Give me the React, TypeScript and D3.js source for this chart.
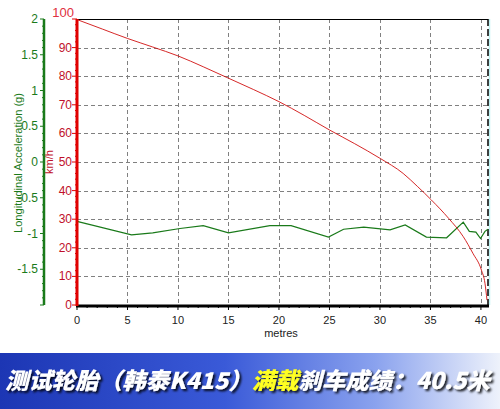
import React, { useEffect, useRef } from 'react';
import * as d3 from 'd3';

// distance (m) vs speed (km/h)
const speedDist = [0, 2.5, 5, 7.5, 10, 12.5, 15, 17.5, 20, 22.5, 25, 27.5, 30, 32.3, 33.7, 35.1, 36.8, 38.25, 39.2, 40.05, 40.4, 40.6];
const speedVals = [99.8, 96.5, 93.2, 90.2, 87.1, 83.3, 79.3, 75.3, 71.1, 66.3, 61.2, 56.4, 51.3, 46.0, 41.5, 36.7, 30.3, 23.9, 18.1, 12.2, 7.6, 1.7];

// distance (m) vs longitudinal acceleration (g)
const accDist = [0, 5.4, 7.5, 10.2, 12.5, 15, 19.1, 21.2, 24.9, 26.4, 28.4, 31.0, 32.5, 34.6, 36.6, 38.25, 38.85, 39.5, 39.96, 40.4, 40.7];
const accVals = [-0.83, -1.02, -0.99, -0.93, -0.89, -0.99, -0.89, -0.89, -1.05, -0.94, -0.91, -0.95, -0.88, -1.05, -1.06, -0.84, -0.97, -0.98, -1.07, -0.97, -0.94];

const xTicks = [0, 5, 10, 15, 20, 25, 30, 35, 40];
const speedTicks = [0, 10, 20, 30, 40, 50, 60, 70, 80, 90];
const accTicks = [-1.5, -1, -0.5, 0, 0.5, 1, 1.5, 2];

const FONT = '"Liberation Sans", Arial, sans-serif';

const App: React.FC = () => {
    const ref = useRef<SVGSVGElement | null>(null);

    useEffect(() => {
        if (!ref.current) return;
        document.body.style.margin = '0';
        const svg = d3.select(ref.current);
        svg.selectAll('*').remove();

        const left = 77, right = 488, top = 19, bottom = 305;
        const x = d3.scaleLinear().domain([0, 40.7]).range([left, right]);
        const ySpeed = d3.scaleLinear().domain([0, 100]).range([bottom, top]);
        const yAcc = d3.scaleLinear().domain([-2, 2]).range([bottom, top]);

        svg.append('rect').attr('width', 500).attr('height', 409).attr('fill', '#fff');

        // grid
        const grid = svg.append('g').attr('stroke', '#808080').attr('stroke-dasharray', '4,3').attr('stroke-width', 1);
        grid.selectAll('line.v').data(xTicks.slice(1)).enter().append('line')
            .attr('x1', d => Math.round(x(d)) + 0.5).attr('x2', d => Math.round(x(d)) + 0.5)
            .attr('y1', top).attr('y2', bottom);
        grid.selectAll('line.h').data(speedTicks.slice(1)).enter().append('line')
            .attr('x1', left).attr('x2', right)
            .attr('y1', d => Math.round(ySpeed(d)) + 0.5).attr('y2', d => Math.round(ySpeed(d)) + 0.5);

        // frame
        svg.append('line').attr('x1', left).attr('x2', right).attr('y1', top + 0.5).attr('y2', top + 0.5)
            .attr('stroke', '#000').attr('stroke-width', 1);
        svg.append('line').attr('x1', right + 1.5).attr('x2', right + 1.5).attr('y1', top).attr('y2', bottom)
            .attr('stroke', '#bff3f3').attr('stroke-width', 1.5);
        svg.append('line').attr('x1', right).attr('x2', right).attr('y1', top).attr('y2', bottom)
            .attr('stroke', '#000').attr('stroke-width', 1.5).attr('stroke-dasharray', '7,3');

        // series
        const accLine = d3.line<number>().x((d, i) => x(accDist[i])).y(d => yAcc(d));
        svg.append('path').attr('d', accLine(accVals)).attr('fill', 'none')
            .attr('stroke', '#1a7a1a').attr('stroke-width', 1.2);

        const speedLine = d3.line<number>().x((d, i) => x(speedDist[i])).y(d => ySpeed(d)).curve(d3.curveMonotoneX);
        svg.append('path').attr('d', speedLine(speedVals)).attr('fill', 'none')
            .attr('stroke', '#d01010').attr('stroke-width', 0.9);

        // x axis
        const xa = svg.append('g');
        xa.selectAll('line.minor').data(d3.range(0, 41)).enter().append('line')
            .attr('x1', d => x(d)).attr('x2', d => x(d))
            .attr('y1', bottom).attr('y2', d => bottom + (d % 5 === 0 ? 5 : 3))
            .attr('stroke', '#000').attr('stroke-width', 1);
        xa.append('line').attr('x1', left - 1).attr('x2', right + 1).attr('y1', bottom + 1).attr('y2', bottom + 1)
            .attr('stroke', '#000').attr('stroke-width', 3);
        xa.selectAll('text').data(xTicks).enter().append('text')
            .attr('x', d => x(d)).attr('y', 324).attr('text-anchor', 'middle')
            .attr('font-family', FONT).attr('font-size', 11).attr('fill', '#222')
            .text(d => d);
        svg.append('text').attr('x', 281).attr('y', 337).attr('text-anchor', 'middle')
            .attr('font-family', FONT).attr('font-size', 11).attr('fill', '#222').text('metres');

        // speed axis (red)
        const ra = svg.append('g');
        ra.selectAll('line.minor').data(d3.range(0, 101, 2)).enter().append('line')
            .attr('x1', left).attr('x2', d => left - (d % 10 === 0 ? 5 : 2))
            .attr('y1', d => ySpeed(d)).attr('y2', d => ySpeed(d))
            .attr('stroke', '#e00000').attr('stroke-width', 1);
        ra.append('line').attr('x1', left).attr('x2', left).attr('y1', top).attr('y2', bottom + 1)
            .attr('stroke', '#e00000').attr('stroke-width', 3);
        ra.selectAll('text').data(speedTicks).enter().append('text')
            .attr('x', 72).attr('y', d => ySpeed(d) + 4).attr('text-anchor', 'end')
            .attr('font-family', FONT).attr('font-size', 12).attr('fill', '#c0102a')
            .text(d => d);
        svg.append('text').attr('x', 74).attr('y', 17).attr('text-anchor', 'end')
            .attr('font-family', FONT).attr('font-size', 13).attr('fill', '#e03040').text('100');
        svg.append('text').attr('transform', 'translate(53,162) rotate(-90)').attr('text-anchor', 'middle')
            .attr('font-family', FONT).attr('font-size', 11).attr('fill', '#c0102a').text('km/h');

        // acceleration axis (green)
        const ga = svg.append('g');
        ga.selectAll('line.minor').data(d3.range(-20, 21)).enter().append('line')
            .attr('x1', 44).attr('x2', d => 44 - (d % 5 === 0 ? 4 : 2))
            .attr('y1', d => yAcc(d / 10)).attr('y2', d => yAcc(d / 10))
            .attr('stroke', '#1a7a1a').attr('stroke-width', 1);
        ga.append('line').attr('x1', 44).attr('x2', 44).attr('y1', top).attr('y2', bottom)
            .attr('stroke', '#1a7a1a').attr('stroke-width', 2.5);
        ga.selectAll('text').data(accTicks).enter().append('text')
            .attr('x', 38).attr('y', d => yAcc(d) + 4).attr('text-anchor', 'end')
            .attr('font-family', FONT).attr('font-size', 12).attr('fill', '#1a7a1a')
            .text(d => d);
        svg.append('text').attr('transform', 'translate(22,163) rotate(-90)').attr('text-anchor', 'middle')
            .attr('font-family', FONT).attr('font-size', 10).attr('fill', '#1a7a1a')
            .attr('textLength', 140).attr('lengthAdjust', 'spacingAndGlyphs')
            .text('Longitudinal Acceleration (g)');

        // banner
        const defs = svg.append('defs');
        const grad = defs.append('linearGradient').attr('id', 'bannerGrad');
        grad.append('stop').attr('offset', '0%').attr('stop-color', '#1c36b4');
        grad.append('stop').attr('offset', '45%').attr('stop-color', '#3a5ad8');
        grad.append('stop').attr('offset', '75%').attr('stop-color', '#8aa2ee');
        grad.append('stop').attr('offset', '100%').attr('stop-color', '#eef2fb');
        const shadow = defs.append('filter').attr('id', 'txtShadow').attr('x', '-5%').attr('y', '-30%')
            .attr('width', '110%').attr('height', '160%');
        shadow.append('feDropShadow').attr('dx', 2).attr('dy', 2).attr('stdDeviation', 1.2)
            .attr('flood-color', '#000').attr('flood-opacity', 0.85);

        svg.append('rect').attr('x', 0).attr('y', 353).attr('width', 500).attr('height', 56)
            .attr('fill', 'url(#bannerGrad)');

        const title = svg.append('text').attr('x', 5).attr('y', 389)
            .attr('font-family', '"Noto Sans CJK SC", sans-serif').attr('font-weight', 900)
            .attr('font-style', 'italic').attr('font-size', 23)
            .attr('textLength', 485).attr('lengthAdjust', 'spacingAndGlyphs')
            .attr('filter', 'url(#txtShadow)').attr('fill', '#fff');
        title.append('tspan').text('测试轮胎（韩泰K415）');
        title.append('tspan').attr('fill', '#ffff20').text('满载');
        title.append('tspan').text('刹车成绩：40.5米');
    }, []);

    return <svg ref={ref} width={500} height={409} style={{ position: 'absolute', left: 0, top: 0 }} />;
};

export default App;
